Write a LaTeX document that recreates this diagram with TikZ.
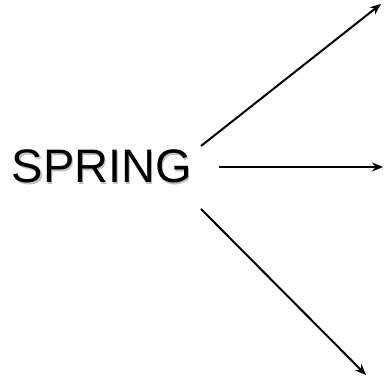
\documentclass[tikz,border=0pt]{standalone}
\usepackage{fontspec}
\setmainfont{Liberation Sans}
\usetikzlibrary{arrows.meta,positioning}

\tikzset{
  season/.style={font=\fontsize{47}{50}\selectfont,inner sep=0pt,anchor=base west},
  ray/.style={line width=2pt,-{Stealth[length=11pt,width=9pt]}}
}

\begin{document}
\begin{tikzpicture}[x=1pt,y=-1pt]
  \useasboundingbox (0,0) rectangle (384,379);
  % word with its soft shadow
  \node [season,text=black!25] (springshade) at (13,184.5) {SPRING};
  \node [season] (spring) at (11.5,183) {SPRING};
  % where the rays start and stop
  \coordinate (upfrom) at (201,146);
  \coordinate (midfrom) at (219,167);
  \coordinate (downfrom) at (201,209);
  \coordinate (upto) at (381,4);
  \coordinate (midto) at (383,167);
  \coordinate (downto) at (366,375);
  \draw [ray] (upfrom) -- (upto);
  \draw [ray] (midfrom) -- (midto);
  \draw [ray] (downfrom) -- (downto);
\end{tikzpicture}
\end{document}
